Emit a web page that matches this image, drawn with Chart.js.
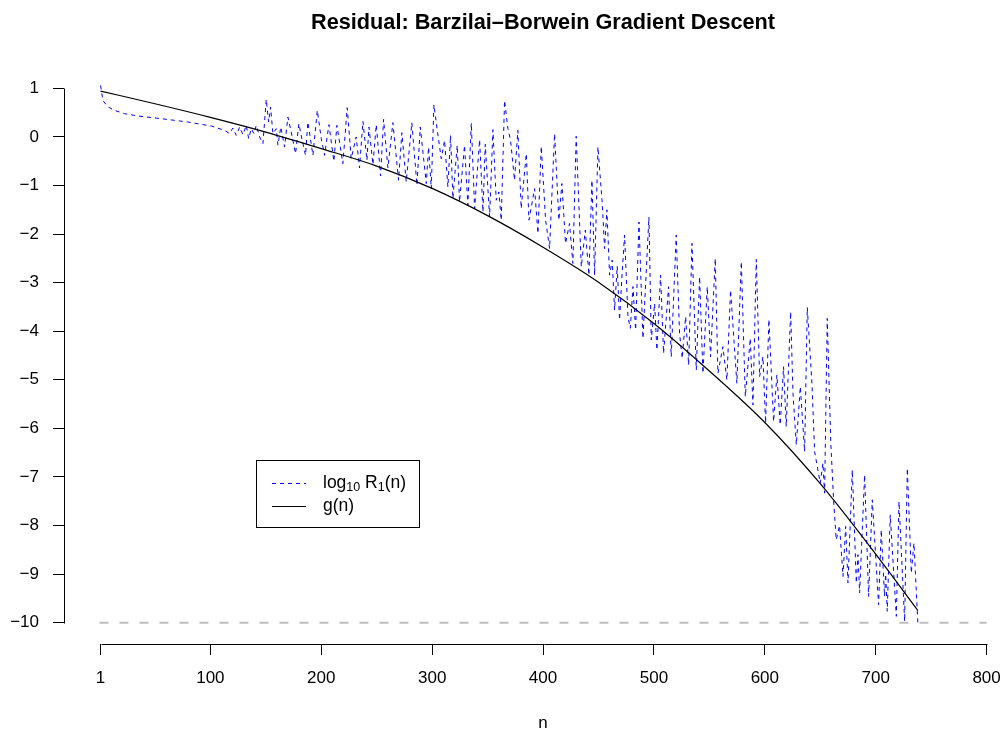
<!DOCTYPE html>
<html><head><meta charset="utf-8">
<script src="https://cdn.jsdelivr.net/npm/chart.js@4/dist/chart.umd.min.js"></script>
<style>html,body{margin:0;padding:0;background:#fff;}canvas{display:block;}</style>
</head><body>
<canvas id="c" width="1006" height="733"></canvas>
<script>
const titleText = 'Residual: Barzilai\u2013Borwein Gradient Descent';
const xLabel = 'n';
const xTickValues = [1, 100, 200, 300, 400, 500, 600, 700, 800];
const yTickValues = [1, 0, -1, -2, -3, -4, -5, -6, -7, -8, -9, -10];

// log10 R1(n) : iteration n and value
const blueN = [1, 3.1, 7.6, 13.6, 22.7, 34.7, 55.7, 79.8, 100.8, 112.8, 117.3, 120.3, 123.3, 126.4, 129.4, 132.4, 134.5, 136.9, 139.3, 141.4, 144.4, 147.4, 150.4, 152.5, 154.3, 156.4, 159.4, 160.9, 163.5, 166.9, 169.9, 172.9, 176.8, 179.8, 182.8, 185.8, 187.9, 192.5, 196.4, 200, 203, 206.9, 211.4, 214.1, 219.5, 223.4, 227, 231.5, 234.5, 237.6, 241.2, 243, 246.6, 249.6, 253.5, 256.2, 260.1, 264.6, 269.7, 272.7, 276.6, 281.7, 286.3, 289.3, 294.7, 296.8, 299.2, 301.6, 304.5, 308.2, 311.2, 314.2, 316.6, 318.7, 322.6, 324.7, 329.2, 332.2, 335.3, 338.3, 342.8, 345.8, 347.9, 351.8, 354.8, 357.8, 360.2, 362.3, 365.3, 368.3, 370.7, 374.3, 377.3, 380.3, 384.9, 387.3, 392.4, 395.4, 398.4, 402.3, 405.9, 410.4, 414.3, 417, 420.3, 423.9, 426.9, 429.9, 434.5, 438.1, 441.4, 444.1, 446.5, 449.5, 453.4, 455.5, 457.6, 460, 462.4, 464.5, 466.9, 469, 471.4, 473.5, 476.6, 478.7, 481.1, 483.5, 486.5, 490.1, 495.5, 497.6, 500.6, 502.7, 506, 508.7, 513.2, 515.6, 520.1, 523.1, 525.5, 528.6, 531.3, 534.3, 538.2, 541.2, 544.2, 548.1, 551.1, 555.3, 557.7, 562.2, 565.8, 569.1, 574.8, 578.8, 582.4, 586.9, 589.3, 592.3, 595.3, 598.3, 600.7, 603.7, 607.9, 610.9, 613.9, 616.9, 619.3, 623.3, 625.4, 628.4, 632, 635.9, 638.3, 642.5, 644.9, 650, 652.4, 653.9, 656.3, 659.5, 662, 664.4, 667.4, 670.5, 672.9, 675, 678.9, 682.5, 684, 685.5, 690, 693.6, 696.9, 702.6, 705, 708, 709, 710.4, 713.1, 718.6, 721, 726.1, 728.5, 732.1, 734.5, 738];
const blueY = [1.06, 0.75, 0.62, 0.547, 0.479, 0.431, 0.376, 0.307, 0.225, 0.136, 0.07, 0.184, 0.033, 0.205, 0.047, 0.239, -0.035, 0.17, 0.068, 0.239, 0, -0.138, 0.773, 0.307, 0.616, 0.068, 0.17, -0.17, 0.205, -0.207, 0.41, 0.102, -0.344, 0.273, -0.07, -0.378, 0.307, -0.378, 0.547, -0.035, -0.378, 0.253, -0.501, 0.239, -0.549, 0.602, -0.447, 0, -0.638, 0.321, -0.481, 0.205, -0.57, 0.253, -0.803, 0.362, -0.638, 0.294, -0.892, 0.088, -0.926, 0.294, -0.995, 0.205, -0.96, -0.207, -1.063, 0.664, 0.157, -0.447, -0.069, -1.029, 0.034, -1.269, -0.172, -1.337, -0.172, -1.406, 0.287, -1.474, -0.056, -1.543, -0.151, -1.646, 0.15, -1.303, -1.132, -1.714, 0.75, 0.171, -0.069, -0.892, 0.136, -1.474, -0.343, -1.714, -1.063, -1.988, -0.193, -1.714, -2.297, 0.068, -1.714, -0.96, -2.194, -1.783, -2.605, 0.013, -2.674, -1.92, -2.845, -0.892, -2.845, -0.206, -1.372, -2.3, -1.5, -2.845, -2.536, -3.564, -2.66, -3.77, -2.776, -2.02, -3.7, -3.94, -3.08, -3.975, -1.75, -4.147, -1.65, -4.18, -3.43, -4.387, -2.845, -4.455, -3.085, -4.524, -2.02, -4.04, -4.56, -3.7, -4.695, -2.19, -4.798, -2.879, -4.867, -3.085, -4.524, -2.502, -4.867, -4.318, -5.004, -3.153, -5.072, -2.57, -5.346, -4.147, -5.518, -2.523, -4.935, -4.524, -5.895, -3.757, -5.86, -4.901, -5.929, -4.73, -5.963, -3.599, -5.278, -6.34, -5.141, -6.478, -3.51, -5.073, -6.478, -7.129, -6.717, -7.334, -3.736, -6.3, -7.47, -8.294, -8.0, -9.048, -8.02, -9.185, -6.855, -9.185, -8.6, -9.39, -6.957, -9.459, -7.471, -9.63, -8.088, -9.459, -9.0, -9.767, -7.78, -9.87, -7.506, -9.973, -6.82, -8.979, -8.362, -10.0];

// g(n)
const gN = [1, 50, 100, 150, 200, 250, 300, 350, 400, 450, 500, 550, 600, 650, 700, 738];
const gY = [0.944, 0.684, 0.404, 0.10, -0.24, -0.60, -1.06, -1.62, -2.27, -2.99, -3.84, -4.82, -5.88, -7.14, -8.59, -9.75];

// reference level
const refN = [0, 800];
const refY = [-10, -10];

const FONT = '"Liberation Sans", Arimo, Arial, sans-serif';
const pts = (xs, ys) => xs.map((v, i) => ({x: v, y: ys[i]}));
const minusFmt = v => (v < 0 ? '\u2212' + Math.abs(v) : String(v));

const overlay = {
  id: 'overlay',
  afterDraw(chart) {
    const {ctx, chartArea, scales: {x, y}} = chart;
    ctx.save();
    ctx.strokeStyle = '#000';
    ctx.lineWidth = 1;
    ctx.setLineDash([]);
    // axis lines (from first to last tick, like base R)
    const yb = Math.round(chartArea.bottom) + 0.5;
    ctx.beginPath();
    ctx.moveTo(Math.round(x.getPixelForValue(xTickValues[0])) + 0.5, yb);
    ctx.lineTo(Math.round(x.getPixelForValue(xTickValues[xTickValues.length - 1])) + 0.5, yb);
    ctx.stroke();
    const xl = Math.round(chartArea.left) + 0.5;
    ctx.beginPath();
    ctx.moveTo(xl, Math.round(y.getPixelForValue(yTickValues[0])) + 0.5);
    ctx.lineTo(xl, Math.round(y.getPixelForValue(yTickValues[yTickValues.length - 1])) + 0.5);
    ctx.stroke();

    // title and x label centred on the plot region
    const cx = (chartArea.left + x.getPixelForValue(832)) / 2;
    ctx.fillStyle = '#000';
    ctx.textAlign = 'center';
    ctx.textBaseline = 'alphabetic';
    ctx.font = 'bold 21.7px ' + FONT;
    ctx.fillText(titleText, cx, 29);
    ctx.font = '17px ' + FONT;
    ctx.fillText(xLabel, cx, 728);

    // legend
    ctx.strokeStyle = '#000';
    ctx.strokeRect(256.5, 460.5, 163, 67);
    const yy1 = 483, yy2 = 506;
    ctx.beginPath();
    ctx.strokeStyle = '#0000ff';
    ctx.setLineDash([4, 4]);
    ctx.moveTo(272, yy1 + 0.5); ctx.lineTo(306, yy1 + 0.5); ctx.stroke();
    ctx.setLineDash([]);
    ctx.beginPath();
    ctx.strokeStyle = '#000';
    ctx.moveTo(272, yy2 + 0.5); ctx.lineTo(306, yy2 + 0.5); ctx.stroke();
    ctx.textAlign = 'left';
    ctx.textBaseline = 'middle';
    const big = '17.5px ' + FONT, small = '12.5px ' + FONT;
    let tx = 323;
    const seg = (t, f, dy) => { ctx.font = f; ctx.fillText(t, tx, yy1 + dy); tx += ctx.measureText(t).width; };
    seg('log', big, 0); seg('10', small, 5); seg(' R', big, 0); seg('1', small, 5); seg('(n)', big, 0);
    ctx.font = big;
    ctx.fillText('g(n)', 323, yy2);
    ctx.restore();
  }
};

new Chart(document.getElementById('c').getContext('2d'), {
  type: 'line',
  data: {
    datasets: [
      {label: 'log10 R1(n)', data: pts(blueN, blueY), borderColor: '#0000ff', borderWidth: 1, borderDash: [4, 4], pointRadius: 0, tension: 0, order: 3},
      {label: 'g(n)', data: pts(gN, gY), borderColor: '#000000', borderWidth: 1.2, pointRadius: 0, cubicInterpolationMode: 'monotone', order: 2},
      {label: 'ref', data: pts(refN, refY), borderColor: '#bebebe', borderWidth: 2, borderDash: [9, 11], pointRadius: 0, order: 1}
    ]
  },
  options: {
    responsive: false,
    animation: false,
    devicePixelRatio: 1,
    layout: {padding: {top: 67, left: 0, right: 0, bottom: 0}},
    plugins: {legend: {display: false}, title: {display: false}, tooltip: {enabled: false}},
    scales: {
      x: {
        type: 'linear', min: -32, max: 817.5,
        afterBuildTicks: s => { s.ticks = xTickValues.map(v => ({value: v})); },
        afterFit: s => { s.height = 89; s.paddingLeft = 0; s.paddingRight = 0; },
        grid: {drawOnChartArea: false, drawTicks: true, tickLength: 11, color: '#000', lineWidth: 1},
        border: {display: false},
        ticks: {font: {family: FONT, size: 17}, color: '#000', padding: 13, maxRotation: 0, autoSkip: false, callback: v => String(v)}
      },
      y: {
        type: 'linear', min: -10.44, max: 1.44,
        afterBuildTicks: s => { s.ticks = yTickValues.map(v => ({value: v})); },
        afterFit: s => { s.width = 64; },
        grid: {drawOnChartArea: false, drawTicks: true, tickLength: 11, color: '#000', lineWidth: 1},
        border: {display: false},
        ticks: {font: {family: FONT, size: 17}, color: '#000', padding: 14, autoSkip: false, callback: minusFmt}
      }
    }
  },
  plugins: [overlay]
});
</script>
</body></html>
